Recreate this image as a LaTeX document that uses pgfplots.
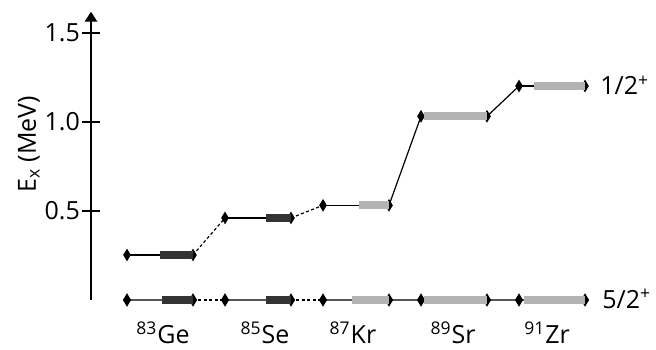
\documentclass[border=0pt]{standalone}
\usepackage{pgfplots}
\pgfplotsset{compat=1.18}
\usetikzlibrary{arrows.meta}
\usepackage{fontspec}
\setmainfont{Open Sans}
\definecolor{dark}{HTML}{333333}
\definecolor{light}{HTML}{B3B3B3}
\definecolor{lvl}{HTML}{555555}
\begin{document}
\begin{tikzpicture}
\begin{axis}[
  x=0.5pt, y=89pt,
  xmin=91, xmax=656, ymin=0, ymax=1.62,
  axis x line=none, axis y line=left,
  axis line style={line width=1.4pt, -{Triangle[width=6pt,length=5pt]}},
  ytick={0.5,1,1.5}, xtick=\empty,
  tick align=center, major tick length=9pt,
  every tick/.style={line width=1.4pt, black},
  yticklabel style={font=\fontsize{12.5}{14}\selectfont, xshift=2.5pt, /pgf/number format/.cd, fixed, fixed zerofill, precision=1, assume math mode=true},
  clip=false, clip marker paths=true,
  lvlU/.style={black, line width=0.6pt, mark=diamond*, mark size=2.6pt, mark options={black, solid, xscale=0.8}},
  lvlL/.style={lvl, line width=0.8pt, mark=diamond*, mark size=2.6pt, mark options={black, solid, xscale=0.8}},
  conn/.style={black, line width=0.6pt, no marks},
  dconn/.style={black, line width=0.6pt, no marks, dash pattern=on 1.5pt off 1.2pt},
  dconnL/.style={black, line width=0.7pt, no marks, dash pattern=on 1.5pt off 1.2pt},
  connL/.style={lvl, line width=0.8pt, no marks},
  barD/.style={dark, line width=4pt, line cap=butt, no marks},
  barL/.style={light, line width=4pt, line cap=butt, no marks},
]
\path (axis cs:0,-0.2528) rectangle (axis cs:656,1.6854);
% connectors, 1/2+ levels
\addplot[dconn] coordinates {(193,0.253) (225,0.461)};
\addplot[dconn] coordinates {(291,0.461) (323,0.532)};
\addplot[conn] coordinates {(389,0.532) (421,1.032)};
\addplot[conn] coordinates {(487,1.032) (519,1.202)};
% connectors, 5/2+ levels
\addplot[dconnL] coordinates {(193,0) (225,0)};
\addplot[dconnL] coordinates {(291,0) (323,0)};
\addplot[connL] coordinates {(389,0) (421,0)};
\addplot[connL] coordinates {(487,0) (519,0)};
% 1/2+ levels
\addplot[lvlU] coordinates {(127,0.253) (193,0.253)};
\addplot[lvlU] coordinates {(225,0.461) (291,0.461)};
\addplot[lvlU] coordinates {(323,0.532) (389,0.532)};
\addplot[lvlU] coordinates {(421,1.032) (487,1.032)};
\addplot[lvlU] coordinates {(519,1.202) (585,1.202)};
% 5/2+ levels
\addplot[lvlL] coordinates {(127,0) (193,0)};
\addplot[lvlL] coordinates {(225,0) (291,0)};
\addplot[lvlL] coordinates {(323,0) (389,0)};
\addplot[lvlL] coordinates {(421,0) (487,0)};
\addplot[lvlL] coordinates {(519,0) (585,0)};
% bars, 1/2+
\addplot[barD] coordinates {(160,0.253) (193,0.253)};
\addplot[barD] coordinates {(266,0.461) (291,0.461)};
\addplot[barL] coordinates {(359,0.532) (389,0.532)};
\addplot[barL] coordinates {(424,1.032) (487,1.032)};
\addplot[barL] coordinates {(534,1.202) (585,1.202)};
% bars, 5/2+
\addplot[barD] coordinates {(162,0) (193,0)};
\addplot[barD] coordinates {(266,0) (291,0)};
\addplot[barL] coordinates {(352,0) (389,0)};
\addplot[barL] coordinates {(424,0) (487,0)};
\addplot[barL] coordinates {(524,0) (585,0)};
% labels
\node[font=\fontsize{12.5}{14}\selectfont, anchor=base] at (axis cs:163,-0.2416) {\textsuperscript{83}Ge};
\node[font=\fontsize{12.5}{14}\selectfont, anchor=base] at (axis cs:265,-0.2416) {\textsuperscript{85}Se};
\node[font=\fontsize{12.5}{14}\selectfont, anchor=base] at (axis cs:353,-0.2416) {\textsuperscript{87}Kr};
\node[font=\fontsize{12.5}{14}\selectfont, anchor=base] at (axis cs:453,-0.2416) {\textsuperscript{89}Sr};
\node[font=\fontsize{12.5}{14}\selectfont, anchor=base] at (axis cs:547,-0.2416) {\textsuperscript{91}Zr};
\node[font=\fontsize{12.5}{14}\selectfont, anchor=base west, inner sep=0pt] at (axis cs:600,1.152) {1/2\textsuperscript{+}};
\node[font=\fontsize{12.5}{14}\selectfont, anchor=base west, inner sep=0pt] at (axis cs:602,-0.045) {5/2\textsuperscript{+}};
\node[font=\fontsize{12.5}{14}\selectfont, rotate=90, anchor=center] at (axis cs:29,0.874) {E\textsubscript{x} (MeV)};
\end{axis}
\end{tikzpicture}
\end{document}
